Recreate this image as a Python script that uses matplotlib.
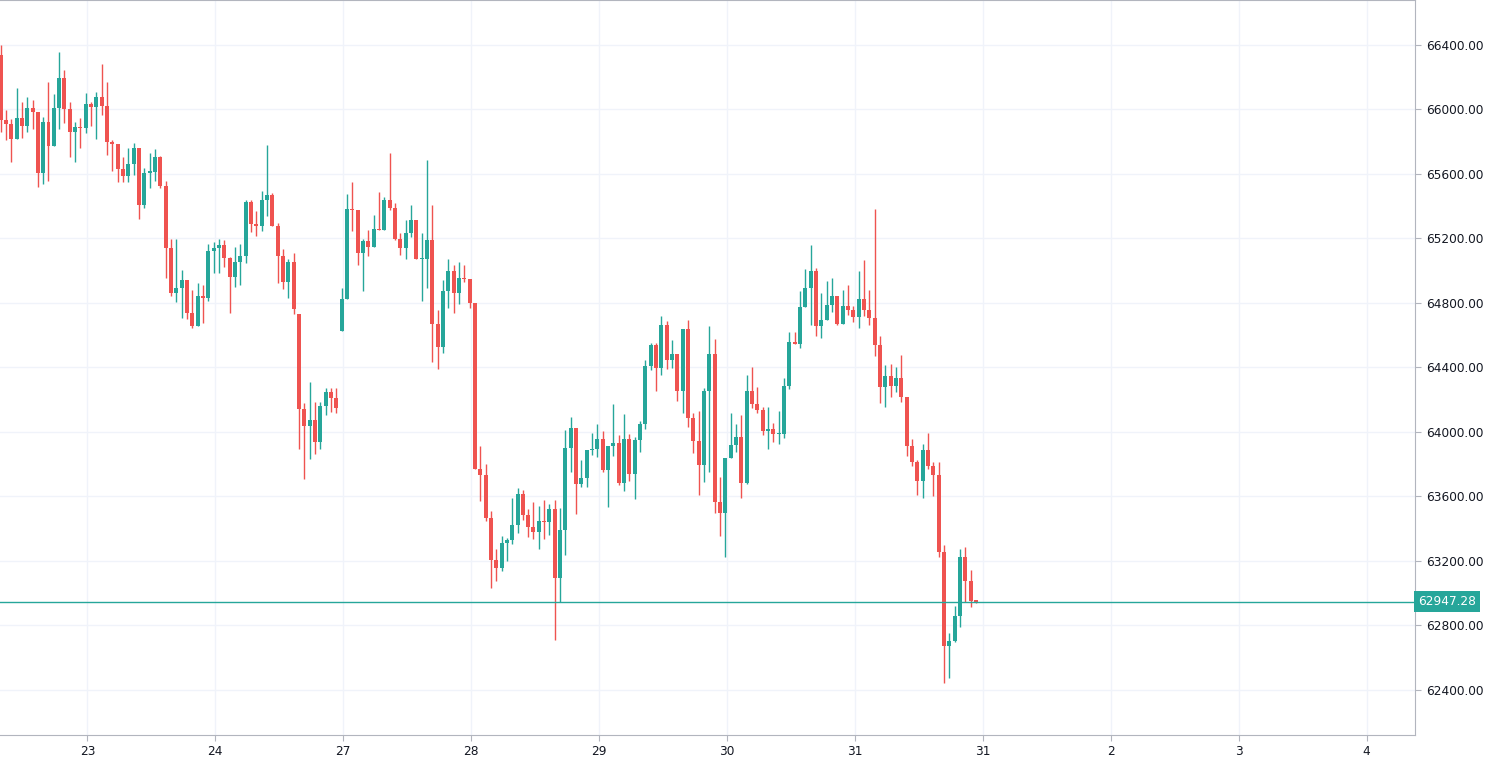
import numpy as np
import matplotlib.pyplot as plt


def main():

    first_open = 66340
    gap_opens = {56: 64733, 64: 64629}

    closes = [65935, 65908, 65815, 65949, 65898, 66011, 65982, 65604, 65920, 65774,
              66011, 66197, 66001, 65858, 65889, 65883, 66034, 66018, 66080, 66024,
              65800, 65784, 65629, 65590, 65660, 65763, 65408, 65608, 65612, 65703,
              65526, 65139, 64860, 64891, 64943, 64736, 64658, 64844, 64830, 65123,
              65139, 65160, 65077, 64960, 65056, 65092, 65424, 65288, 65280, 65439,
              65470, 65278, 65094, 64933, 65053, 64761, 64141, 64038, 64075, 63940,
              64162, 64246, 64209, 64147, 64825, 65383, 65377, 65108, 65185, 65150,
              65259, 65253, 65439, 65391, 65197, 65139, 65236, 65315, 65071, 65073,
              65191, 64668, 64530, 64875, 65000, 64860, 64957, 64947, 64798, 63769,
              63734, 63465, 63207, 63159, 63314, 63331, 63424, 63616, 63486, 63413,
              63378, 63449, 63440, 63523, 63097, 63393, 63903, 64027, 63676, 63717,
              63889, 63895, 63957, 63765, 63914, 63934, 63686, 63957, 63738, 63951,
              64050, 64410, 64540, 64395, 64664, 64447, 64484, 64257, 64639, 64085,
              63945, 63796, 64255, 64484, 63568, 63496, 63837, 63920, 63967, 63682,
              64255, 64172, 64137, 64009, 64019, 63986, 63990, 64286, 64556, 64546,
              64773, 64895, 64999, 64658, 64695, 64788, 64844, 64670, 64782, 64757,
              64711, 64825, 64757, 64705, 64540, 64277, 64348, 64288, 64337, 64215,
              63913, 63812, 63699, 63889, 63792, 63734, 63254, 62675, 62704, 62859,
              63223, 63078, 62954, 62947.28]

    highs = [66400, 65997, 65941, 66135, 66049, 66075, 66059, 65982, 65956, 66173,
             66096, 66359, 66245, 66049, 65925, 65950, 66104, 66044, 66110, 66282,
             66173, 65811, 65784, 65708, 65763, 65794, 65763, 65639, 65732, 65755,
             65710, 65555, 65197, 65197, 65005, 64943, 64881, 64926, 64912, 65166,
             65180, 65197, 65190, 65087, 65150, 65166, 65439, 65439, 65371, 65495,
             65780, 65480, 65295, 65135, 65073, 65112, 64705, 64178, 64308, 64184,
             64184, 64271, 64271, 64271, 64895, 65476, 65553, 65377, 65197, 65253,
             65346, 65486, 65460, 65728, 65422, 65236, 65315, 65408, 65315, 65236,
             65687, 65408, 64757, 64943, 65073, 65036, 65056, 65036, 64947, 64798,
             63914, 63802, 63511, 63273, 63356, 63341, 63593, 63651, 63640, 63523,
             63568, 63542, 63579, 63553, 63579, 63527, 64013, 64091, 64027, 63827,
             63889, 63996, 64050, 64003, 63914, 64174, 63982, 64112, 63986, 63970,
             64070, 64447, 64554, 64554, 64720, 64689, 64571, 64484, 64639, 64695,
             64120, 64130, 64271, 64658, 64575, 63723, 63837, 64116, 64050, 64106,
             64354, 64401, 64282, 64158, 64158, 64058, 64130, 64337, 64622, 64617,
             64875, 65009, 65160, 65020, 64865, 64937, 64957, 64844, 64881, 64912,
             64782, 64999, 65067, 64881, 65383, 64596, 64416, 64422, 64406, 64478,
             64215, 63956, 63827, 63925, 63992, 63811, 63811, 63300, 62756, 62921,
             63275, 63285, 63145, 62960]

    lows = [65860, 65811, 65677, 65815, 65821, 65863, 65877, 65521, 65536, 65557,
            65774, 65877, 65914, 65708, 65672, 65759, 65852, 65898, 65815, 65966,
            65718, 65619, 65548, 65552, 65552, 65594, 65319, 65387, 65515, 65559,
            65511, 64953, 64844, 64805, 64705, 64699, 64643, 64658, 64674, 64815,
            64985, 64985, 65025, 64736, 64902, 64912, 65046, 65243, 65216, 65249,
            65340, 65278, 64922, 64885, 64829, 64730, 63893, 63707, 63831, 63862,
            63893, 64106, 64122, 64116, 64629, 64845, 65249, 65036, 64875, 65092,
            65145, 65253, 65257, 65377, 65191, 65098, 65071, 65212, 65071, 64813,
            64891, 64432, 64389, 64489, 64767, 64736, 64793, 64930, 64767, 63769,
            63573, 63451, 63031, 63076, 63140, 63202, 63304, 63372, 63455, 63351,
            63335, 63273, 63335, 63361, 62707, 62948, 63238, 63750, 63490, 63661,
            63657, 63858, 63843, 63750, 63537, 63853, 63671, 63635, 63697, 63583,
            63878, 64017, 64385, 64257, 64354, 64389, 64395, 64193, 64120, 64033,
            63868, 63610, 63692, 63749, 63496, 63356, 63223, 63837, 63874, 63589,
            63675, 64148, 64116, 63982, 63893, 63940, 63924, 63961, 64265, 64544,
            64519, 64773, 64664, 64596, 64581, 64695, 64741, 64664, 64670, 64726,
            64679, 64643, 64720, 64664, 64472, 64182, 64153, 64215, 64246, 64184,
            63851, 63791, 63610, 63589, 63769, 63604, 63223, 62442, 62473, 62700,
            62793, 62947, 62913, 62940]

    closes = np.array(closes, dtype=float)
    opens = np.concatenate(([first_open], closes[:-1]))
    for i, v in gap_opens.items():
        opens[i] = v
    highs = np.maximum(np.array(highs, dtype=float), np.maximum(opens, closes))
    lows = np.minimum(np.array(lows, dtype=float), np.minimum(opens, closes))
    idx = np.arange(len(closes))

    up = closes >= opens
    colors = np.where(up, "#26a69a", "#ef5350")
    last_price = closes[-1]

    # plot stuff
    plt.figure(figsize=(14.92, 7.64), dpi=100)
    ax = plt.axes([0.0, 0.038, 0.9484, 0.962])
    plt.grid(True, color="#f0f3fa", linewidth=1.0)
    ax.set_axisbelow(True)
    plt.vlines(idx, lows, highs, colors=colors, linewidth=1.0)
    bodies = np.maximum(np.abs(closes - opens), 8)
    plt.bar(idx, bodies, bottom=np.minimum(opens, closes), width=0.75, color=colors)
    plt.axhline(last_price, color="#26a69a", linewidth=1.0)

    plt.xlim(-0.1, 265.4)
    plt.ylim(62121, 66679)
    plt.xticks(16.3 + 24 * np.arange(11), ["23", "24", "27", "28", "29", "30", "31", "31", "2", "3", "4"])
    plt.yticks(np.arange(62400, 66401, 400))
    ax.yaxis.tick_right()
    ax.yaxis.set_major_formatter(plt.FormatStrFormatter("%.2f"))
    ax.tick_params(axis="both", length=4, color="#b2b5be", labelsize=8.7, labelcolor="#131722")
    ax.tick_params(axis="y", pad=4)
    for side in ["left"]:
        ax.spines[side].set_visible(False)
    for side in ["right", "bottom", "top"]:
        ax.spines[side].set_color("#b2b5be")

    ax.text(1.002, last_price, "%.2f" % last_price, transform=ax.get_yaxis_transform(),
            va="center", ha="left", color="white", fontsize=8.7,
            bbox=dict(boxstyle="square,pad=0.35", facecolor="#26a69a", edgecolor="none"))

    plt.savefig("out.png", dpi=100)


if __name__ == "__main__":
    main()
